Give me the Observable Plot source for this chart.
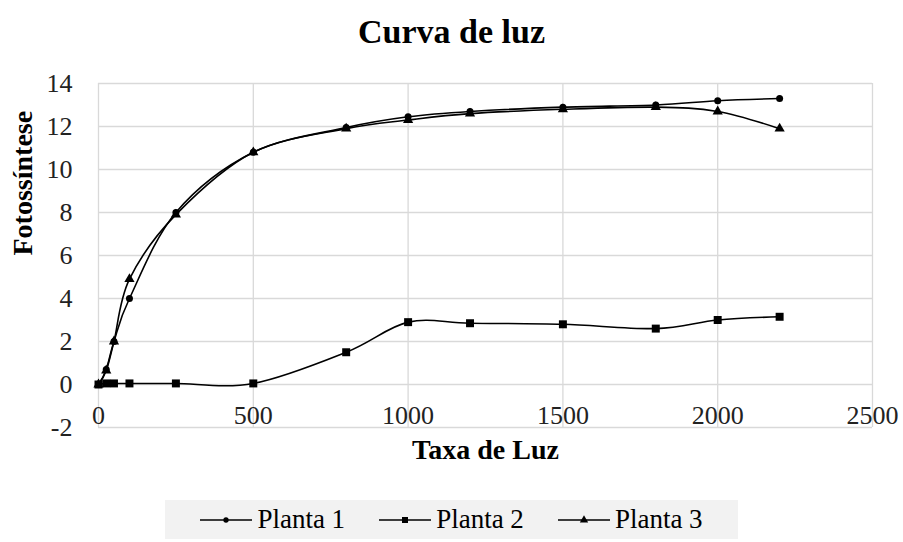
<!DOCTYPE html>
<html>
<head>
<meta charset="utf-8">
<script src="https://cdn.jsdelivr.net/npm/d3@7"></script>
<script src="https://cdn.jsdelivr.net/npm/@observablehq/plot@0.6"></script>
<style>
  html, body { margin: 0; padding: 0; background: #fff; }
  #wrap { position: relative; width: 903px; height: 542px; font-family: "Liberation Serif", "Times New Roman", serif; color: #000; }
  #title { position: absolute; left: 0; width: 903px; top: 12px; text-align: center; font-size: 34px; font-weight: bold; line-height: 40px; }
  #chart { position: absolute; left: 0; top: 60px; }
  #legend { position: absolute; left: 165px; top: 500px; width: 573px; height: 39px; background: #f2f2f2;
            display: flex; align-items: center; justify-content: center; gap: 34px; font-size: 27px; }
  .item { display: flex; align-items: center; }
  .item svg { margin-right: 5px; }
</style>
</head>
<body>
<div id="wrap">
  <div id="title">Curva de luz</div>
  <div id="chart"></div>
  <div id="legend"></div>
</div>
<script>
const seriesNames = ["Planta 1", "Planta 2", "Planta 3"];
const x1 = [0, 25, 50, 100, 250, 500, 800, 1000, 1200, 1500, 1800, 2000, 2200];
const y1 = [0, 0.7, 2.0, 4.0, 8.0, 10.8, 11.95, 12.45, 12.7, 12.9, 13.0, 13.2, 13.3];
const x2 = [0, 25, 50, 100, 250, 500, 800, 1000, 1200, 1500, 1800, 2000, 2200];
const y2 = [0, 0.05, 0.05, 0.05, 0.05, 0.05, 1.5, 2.9, 2.85, 2.8, 2.6, 3.0, 3.15];
const x3 = [0, 25, 50, 100, 250, 500, 800, 1000, 1200, 1500, 1800, 2000, 2200];
const y3 = [0, 0.65, 2.0, 4.9, 7.9, 10.8, 11.9, 12.3, 12.6, 12.8, 12.9, 12.7, 11.9];
const xTicks = [0, 500, 1000, 1500, 2000, 2500];
const yTicks = [-2, 0, 2, 4, 6, 8, 10, 12, 14];
const xLabel = "Taxa de Luz";
const yLabel = "Fotossíntese";

const toRows = (xs, ys, s) => xs.map((x, i) => ({x, y: ys[i], s}));
const d1 = toRows(x1, y1, seriesNames[0]);
const d2 = toRows(x2, y2, seriesNames[1]);
const d3s = toRows(x3, y3, seriesNames[2]);
const all = [...d1, ...d2, ...d3s];

const grid = "#d9d9d9";
const chart = Plot.plot({
  width: 903,
  height: 410,
  marginLeft: 98,
  marginRight: 31,
  marginTop: 23,
  marginBottom: 43,
  style: {fontFamily: "'Liberation Serif', 'Times New Roman', serif", fontSize: "26px", color: "#000", background: "transparent", overflow: "visible"},
  x: {domain: [0, 2500], axis: null},
  y: {domain: [-2, 14], axis: null},
  marks: [
    Plot.gridX(xTicks, {stroke: grid, strokeOpacity: 1, strokeWidth: 1.3}),
    Plot.gridY(yTicks, {stroke: grid, strokeOpacity: 1, strokeWidth: 1.3}),
    Plot.axisY(yTicks, {tickSize: 0, tickPadding: 26, label: null, fontSize: 26, fill: "#222", tickFormat: d => String(d)}),
    Plot.text(xTicks.map(t => ({t})), {x: "t", y: () => 0, text: d => String(d.t), dy: 31, lineAnchor: "middle", fontSize: 26, fill: "#222"}),
    Plot.text([xLabel], {frameAnchor: "bottom", dy: 23, lineAnchor: "middle", fontSize: 28, fontWeight: "bold"}),
    Plot.text([yLabel], {frameAnchor: "left", dx: -75, rotate: -90, lineAnchor: "middle", fontSize: 28, fontWeight: "bold"}),
    Plot.line(all, {x: "x", y: "y", z: "s", stroke: "#000", strokeWidth: 1.6, curve: "cardinal"}),
    Plot.dot(d1, {x: "x", y: "y", symbol: "circle", r: 3.5, fill: "#000"}),
    Plot.dot(d2, {x: "x", y: "y", symbol: "square", r: 4.5, fill: "#000"}),
    Plot.dot(d3s, {x: "x", y: "y", symbol: "triangle", r: 3.8, fill: "#000"})
  ]
});
document.getElementById("chart").appendChild(chart);

// Legend
const legend = document.getElementById("legend");
const syms = [d3.symbolCircle, d3.symbolSquare, d3.symbolTriangle];
const sizes = [22, 36, 30];
seriesNames.forEach((name, i) => {
  const item = document.createElement("div");
  item.className = "item";
  const svg = d3.create("svg").attr("width", 52).attr("height", 20);
  svg.append("line").attr("x1", 0).attr("x2", 52).attr("y1", 10).attr("y2", 10).attr("stroke", "#000").attr("stroke-width", 1.6);
  svg.append("path").attr("transform", "translate(26,10)").attr("d", d3.symbol(syms[i], sizes[i])()).attr("fill", "#000");
  item.appendChild(svg.node());
  const span = document.createElement("span");
  span.textContent = name;
  item.appendChild(span);
  legend.appendChild(item);
});
</script>
</body>
</html>
